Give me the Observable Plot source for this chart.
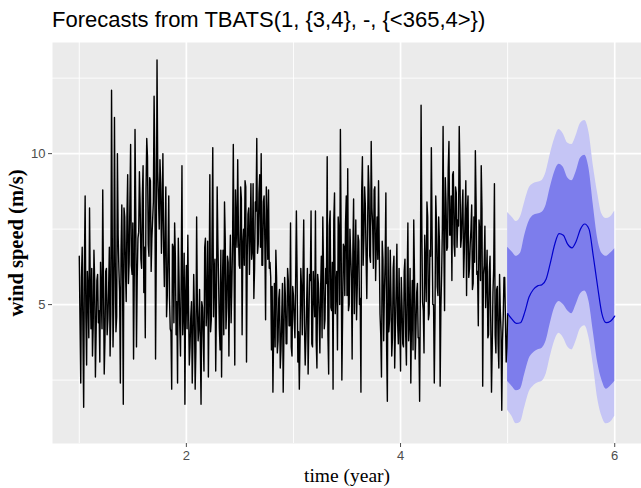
<!DOCTYPE html>
<html>
<head>
<meta charset="utf-8">
<script src="https://cdn.jsdelivr.net/npm/d3@7"></script>
<script src="https://cdn.jsdelivr.net/npm/@observablehq/plot@0.6"></script>
<style>
  body { margin: 0; background: #fff; }
  #wrap { width: 641px; height: 488px; position: relative; overflow: hidden; }
  #title { position: absolute; left: 52px; top: 9px; font-family: "Liberation Sans", Arial, sans-serif; font-size: 22px; line-height: 22px; color: #000; white-space: nowrap; }
  #chart { position: absolute; left: 0; top: 42px; }
</style>
</head>
<body>
<div id="wrap">
  <div id="title">Forecasts from TBATS(1, {3,4}, -, {&lt;365,4&gt;})</div>
  <div id="chart"></div>
</div>
<script>
// Observed wind speed (m/s): readings every 5 days from year 1 ...
const histStart = 1;
const histStepDays = 5;
const year1 = [6.6, 2.4, 6.9, 1.6, 8.6, 3.0, 5.5, 8.2, 4.2, 3.3, 6.8, 2.6, 5.8, 4.4, 3.1,
  5.3, 8.8, 2.7, 6.1, 4.0, 5.5, 3.3, 12.1, 3.6, 11.2, 4.1, 10.0, 6.2, 2.4, 8.3,
  1.7, 7.9, 5.1, 9.3, 6.4, 10.3, 6.0, 3.2, 10.8, 3.6, 7.2, 9.4, 6.5, 8.6, 5.4,
  3.9, 10.5, 7.0, 9.2, 6.1, 7.8, 11.9, 3.2, 13.1, 8.5, 9.8, 6.7, 10.0, 5.6, 8.9,
  5.3, 8.6, 4.2, 2.2, 6.9, 7.7, 4.0, 2.4, 5.9, 3.3, 9.6, 4.8, 1.7, 6.3];
const year2 = [7.3, 3.0, 4.6, 2.4, 6.0, 2.2, 7.9, 3.8, 5.5, 1.7, 4.9, 2.8, 7.2, 5.0, 2.6,
  9.3, 4.5, 10.2, 6.1, 2.8, 8.9, 5.7, 3.5, 2.6, 6.8, 8.4, 4.2, 6.6, 3.3, 7.3,
  5.6, 10.3, 3.0, 7.7, 9.8, 6.3, 8.9, 4.0, 7.5, 9.1, 3.1, 8.0, 6.0, 9.0, 6.8,
  5.2, 8.4, 10.5, 7.0, 9.3, 10.0, 6.3, 8.6, 4.5, 7.9, 8.8, 6.4, 3.5, 2.1, 5.7,
  6.8, 3.4, 5.2, 2.9, 4.6, 2.1, 5.9, 3.7, 6.2, 4.3, 7.7, 3.3, 5.3, 3.9];
const year3 = [8.1, 3.1, 2.2, 6.2, 4.0, 7.8, 3.0, 5.1, 2.7, 6.0, 8.1, 3.6, 5.4, 8.1, 2.9,
  5.7, 3.4, 6.6, 7.9, 4.2, 6.2, 9.9, 2.7, 8.1, 4.8, 2.2, 8.7, 5.6, 3.5, 7.4,
  10.8, 2.5, 7.0, 5.3, 8.6, 9.5, 5.0, 6.7, 3.2, 8.5, 6.1, 4.5, 7.3, 5.0, 2.1,
  9.9, 7.2, 8.3, 5.2, 9.6, 6.6, 10.4, 7.6, 8.8, 5.8, 7.9, 9.1, 4.7, 2.6, 6.5,
  5.4, 8.7, 1.8, 4.1, 6.8, 3.3, 6.2, 2.9, 5.5, 4.4];
const year4 = [6.2, 2.8, 5.0, 3.6, 6.5, 3.0, 7.7, 4.4, 2.4, 5.8, 7.8, 3.2, 5.4, 3.9, 1.8,
  11.6, 5.1, 3.4, 6.3, 8.4, 4.5, 6.8, 10.2, 5.0, 2.4, 8.6, 5.6, 7.9, 2.3, 6.0,
  10.9, 4.8, 8.4, 6.9, 10.4, 7.3, 5.8, 9.4, 6.6, 8.7, 7.8, 10.9, 6.9, 8.2, 5.9,
  7.9, 5.3, 8.6, 6.2, 7.5, 5.5, 7.9, 10.1, 6.0, 4.3, 7.4, 9.6, 2.3, 6.3, 4.9,
  6.8, 4.0, 6.6, 2.1, 5.4, 9.0, 3.4, 5.6, 2.9, 4.8, 1.5, 4.6, 5.9, 3.1, 4.7];
// ... and the readings half-way between them (2.5 days later)
const mid1 = [4.4, 5.9, 4.0, 6.3, 4.6, 6.1, 3.9, 5.6, 6.2, 4.3, 5.8, 4.1, 6.0, 4.8, 6.4, 4.2, 5.7, 3.8, 6.2, 4.5,
  6.9, 4.7, 7.2, 5.0, 6.6, 4.6, 7.3, 5.4, 6.8,
  5.8, 8.2, 6.1, 7.9, 5.7, 8.4, 6.3, 7.7, 6.0, 8.1, 5.9, 7.4, 8.3, 6.2,
  9.6, 6.9, 8.8, 9.9, 6.6, 9.1, 7.2, 8.4, 9.7, 6.8, 9.4, 7.5, 9.0, 8.1,
  6.9, 7.3, 4.6, 6.8, 5.2, 4.1, 7.0, 4.4, 6.6, 5.1, 7.2, 4.3, 6.1, 4.0, 6.7, 5.3, 4.2];
const mid2 = [4.9, 3.6, 5.1, 3.8, 4.7, 3.5, 5.0, 4.2, 3.7, 5.1, 3.9,
  6.9, 4.3, 7.1, 5.2, 4.1, 7.3, 4.6, 6.5, 5.0, 7.0, 4.2, 6.8, 5.5, 4.0, 7.2, 4.9, 6.4, 5.8, 4.4, 7.1,
  6.4, 8.8, 6.9, 7.4, 6.2, 8.5, 7.0, 6.3, 8.9, 6.6, 8.2, 7.3, 6.5, 9.0, 6.2, 8.1, 6.7, 8.7, 6.9, 6.3, 8.4, 7.1, 8.9, 6.5, 6.2, 5.9,
  5.6, 4.1, 3.6, 5.9, 3.8, 5.5, 3.5, 5.7, 4.0, 5.3, 3.7, 5.8, 4.3, 3.6, 5.6, 4.5, 5.8];
const mid3 = [5.9, 4.1, 3.8, 5.6, 6.0, 4.3, 3.9, 6.2, 4.4, 5.8, 3.7, 6.1, 4.6, 3.8, 6.0, 4.7, 5.5, 3.9, 6.2, 4.5, 5.7, 4.0,
  7.6, 4.9, 6.4, 7.8, 4.7, 6.1, 7.9, 5.0, 7.3, 4.6, 6.9, 7.7, 5.3, 4.8, 7.5, 5.9, 6.8, 4.7, 7.8, 5.6, 7.1, 5.2,
  8.7, 6.3, 8.9, 6.6, 7.4, 8.8, 6.4, 8.2, 6.2, 8.9, 7.0, 6.5,
  6.8, 4.0, 7.1, 3.8, 6.4, 3.6, 6.9, 4.5, 5.2, 3.9, 6.6, 4.2, 7.0, 3.7];
const mid4 = [4.3, 5.9, 3.7, 6.1, 4.0, 5.6, 3.8, 6.2, 4.6, 3.5, 6.0, 4.2, 5.7, 3.9,
  5.4, 7.6, 4.8, 7.3, 5.1, 7.9, 4.7, 6.6, 7.4, 5.0, 4.6, 7.7, 5.3, 7.1, 4.9, 7.5,
  7.1, 9.2, 6.8, 9.5, 7.3, 8.6, 9.3, 7.0, 8.9, 6.9, 7.6, 9.4, 7.2, 8.8, 6.8, 9.1,
  8.1, 5.9, 7.0, 8.3, 5.7, 6.4, 8.4, 6.1, 7.8, 5.8, 8.2, 6.0, 7.6,
  5.8, 3.9, 6.1, 4.4, 3.6, 6.2, 4.0, 5.5, 3.7, 6.0, 4.1, 3.8, 5.9, 4.5, 3.6];

// Forecast (year 5 to 6)
const fcTime = [5.00, 5.04, 5.08, 5.12, 5.16, 5.20, 5.24, 5.28, 5.32, 5.36, 5.40, 5.44, 5.48,
  5.52, 5.56, 5.60, 5.64, 5.68, 5.72, 5.76, 5.80, 5.84, 5.88, 5.92, 5.96, 6.00];
const fcMean = [4.70, 4.52, 4.38, 4.40, 4.75, 5.25, 5.50, 5.62, 5.66, 5.85, 6.40, 7.00, 7.35,
  7.30, 7.00, 6.88, 7.10, 7.50, 7.67, 7.50, 6.60, 5.60, 4.70, 4.40, 4.45, 4.62];
const fcHi80 = [6.9, 6.75, 6.6, 6.7, 7.3, 7.75, 7.95, 8.0, 8.05, 8.3, 8.9, 9.4, 9.65,
  9.55, 9.2, 9.1, 9.4, 9.85, 9.95, 9.5, 8.3, 7.2, 6.7, 6.6, 6.7, 6.85];
const fcLo80 = [2.45, 2.3, 2.15, 2.2, 2.7, 3.2, 3.4, 3.5, 3.55, 3.8, 4.4, 4.9, 5.1,
  5.0, 4.8, 4.7, 5.0, 5.35, 5.45, 5.1, 4.1, 3.1, 2.5, 2.2, 2.3, 2.45];
const fcHi95 = [8.05, 7.9, 7.75, 7.9, 8.4, 8.85, 9.0, 9.05, 9.1, 9.4, 10.0, 10.5, 10.8,
  10.65, 10.35, 10.3, 10.6, 11.0, 11.1, 10.7, 9.6, 8.7, 8.0, 7.85, 7.9, 8.1];
const fcLo95 = [1.5, 1.3, 1.05, 1.1, 1.6, 2.1, 2.3, 2.4, 2.45, 2.7, 3.3, 3.8, 4.05,
  3.9, 3.6, 3.5, 3.8, 4.2, 4.3, 3.9, 3.0, 1.9, 1.3, 1.05, 1.1, 1.3];

const xTicks = [2, 4, 6];
const yTicks = [5, 10];
const xMinor = [1, 3, 5];
const yMinor = [2.5, 7.5, 12.5];
const xLabel = "time (year)";
const yLabel = "wind speed (m/s)";

const onStep = [...year1, ...year2, ...year3, ...year4]
  .map((v, i) => ({t: histStart + i * histStepDays / 365, v}));
const halfStep = [...mid1, ...mid2, ...mid3, ...mid4]
  .map((v, i) => ({t: histStart + (i + 0.5) * histStepDays / 365, v}));
const hist = [...onStep, ...halfStep].sort((a, b) => a.t - b.t);
const fc = fcTime.map((t, i) => ({t, mean: fcMean[i], lo80: fcLo80[i], hi80: fcHi80[i], lo95: fcLo95[i], hi95: fcHi95[i]}));

const chart = Plot.plot({
  width: 641,
  height: 446,
  marginLeft: 52,
  marginRight: 0,
  marginTop: 0,
  marginBottom: 45,
  style: {fontFamily: "'Liberation Sans', Arial, sans-serif", fontSize: "13px", background: "#fff"},
  x: {domain: [0.75, 6.25]},
  y: {domain: [0.4, 13.68]},
  marks: [
    Plot.frame({fill: "#EBEBEB", stroke: null}),
    Plot.gridX(xMinor, {stroke: "#fff", strokeOpacity: 1, strokeWidth: 0.9}),
    Plot.gridY(yMinor, {stroke: "#fff", strokeOpacity: 1, strokeWidth: 0.9}),
    Plot.gridX(xTicks, {stroke: "#fff", strokeOpacity: 1, strokeWidth: 1.7}),
    Plot.gridY(yTicks, {stroke: "#fff", strokeOpacity: 1, strokeWidth: 1.7}),
    Plot.areaY(fc, {x: "t", y1: "lo95", y2: "hi95", fill: "#C5C5F5", curve: "monotone-x"}),
    Plot.areaY(fc, {x: "t", y1: "lo80", y2: "hi80", fill: "#7D7DEC", curve: "monotone-x"}),
    Plot.line(hist, {x: "t", y: "v", stroke: "#000", strokeWidth: 1.4}),
    Plot.line(fc, {x: "t", y: "mean", stroke: "#0000CC", strokeWidth: 1.2, curve: "monotone-x"}),
    Plot.axisX(xTicks, {tickSize: 4, tickPadding: 3, color: "#4D4D4D", label: null, fontSize: 13}),
    Plot.axisY(yTicks, {tickSize: 4, tickPadding: 3, color: "#4D4D4D", label: null, fontSize: 13}),
    Plot.text([xLabel], {frameAnchor: "bottom", dy: 32, textAnchor: "middle", lineAnchor: "middle", fontFamily: "'Liberation Serif', 'Times New Roman', serif", fontSize: 19.5, fill: "#000"}),
    Plot.text([yLabel], {frameAnchor: "left", dx: -36, rotate: -90, textAnchor: "middle", lineAnchor: "middle", fontFamily: "'Liberation Serif', 'Times New Roman', serif", fontWeight: "bold", fontSize: 20.5, fill: "#000"})
  ]
});
document.getElementById("chart").appendChild(chart);
</script>
</body>
</html>
